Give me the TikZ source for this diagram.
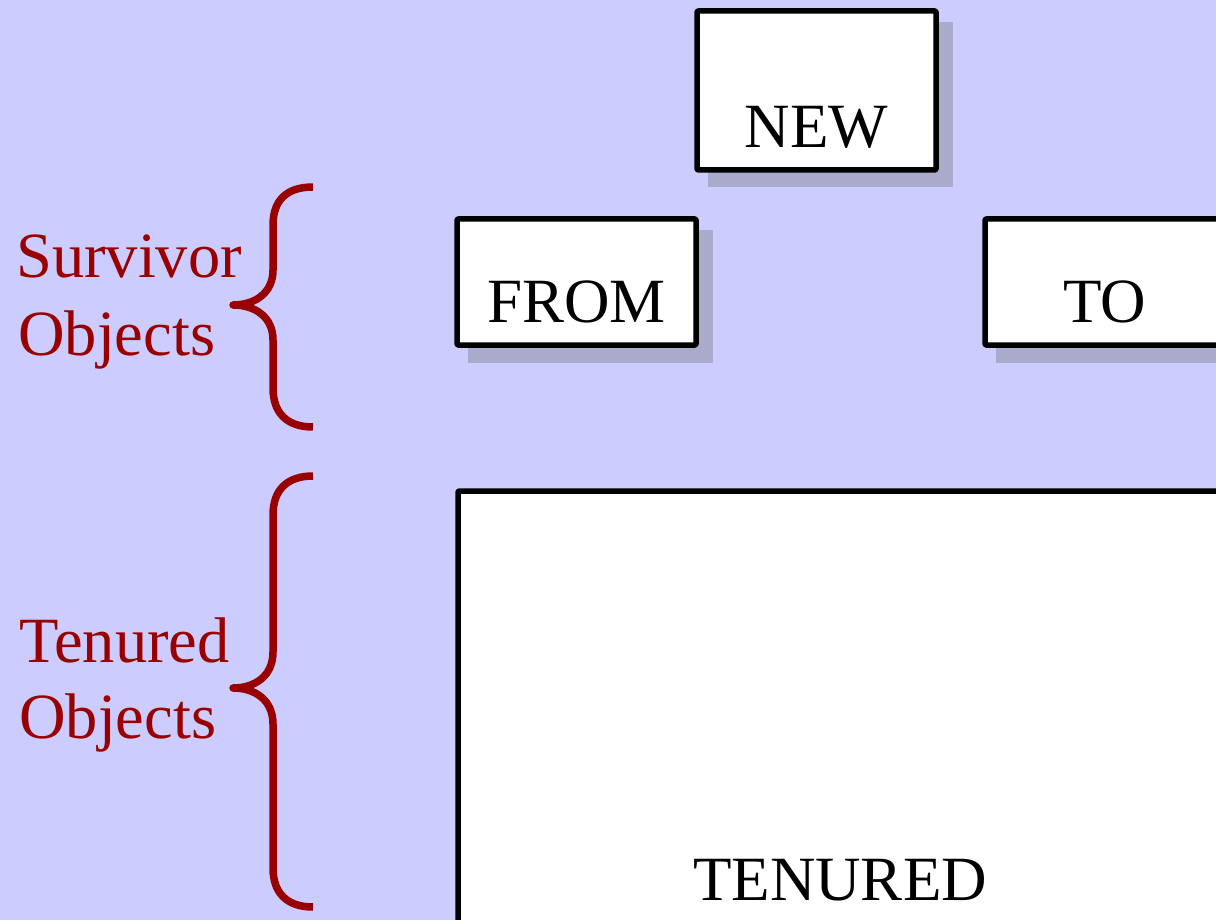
\documentclass[tikz,border=0pt]{standalone}
\usepackage{fontspec}
\setmainfont{Liberation Serif}
\definecolor{bg}{HTML}{CCCCFF}
\definecolor{shad}{HTML}{AAAACC}
\definecolor{dred}{HTML}{990000}
\begin{document}
\begin{tikzpicture}[x=1pt,y=-1pt,
  box/.style={draw=black,line width=5.5pt,fill=white,line join=round,rounded corners=1pt,inner sep=0pt},
  shadowbox/.style={fill=shad},
  lbl/.style={font=\fontsize{63}{75}\selectfont, anchor=base, inner sep=0pt},
  side/.style={lbl, font=\fontsize{64.5}{75}\selectfont, text=dred, anchor=base west},
  brace/.style={draw=dred,line width=7.5pt,line cap=butt,line join=round}]
\useasboundingbox (0,0) rectangle (1216,920);
\clip (0,0) rectangle (1216,920);
\fill[bg] (0,0) rectangle (1216,920);

% shadows
\fill[shadowbox] (708,22) rectangle (953,187);
\fill[shadowbox] (468,230) rectangle (713,363);
\fill[shadowbox] (996,230) rectangle (1240,363);

% boxes
\node[box, minimum width=239pt, minimum height=159pt] (new) at (816.5,90.5) {};
\node[box, minimum width=239pt, minimum height=126pt] (from) at (576.5,282) {};
\node[box, minimum width=239pt, minimum height=126pt] (to) at (1104.5,282) {};
\node[box, minimum width=764pt, minimum height=469pt] (tenured) at (840,725.5) {};

% box texts
\node[lbl] (newt) at (816.5,148) {NEW};
\node[lbl] (fromt) at (576.5,323) {FROM};
\node[lbl] (tot) at (1104.5,323) {TO};
\node[lbl] (tent) at (840,900) {TENURED};

% side labels
\node[side] (surv1) at (16,278) {Survivor};
\node[side] (surv2) at (18,355) {Objects};
\node[side] (ten1) at (19,662) {Tenured};
\node[side] (ten2) at (19,738) {Objects};

% braces
\draw[brace] (313,187) .. controls (287,187) and (273,200) .. (273,225)
  -- (273,270) .. controls (273,293) and (255,305) .. (233,305)
  .. controls (255,305) and (273,317) .. (273,340)
  -- (273,388) .. controls (273,413) and (287,427) .. (313,427);
\draw[brace] (313,476) .. controls (287,476) and (273,490) .. (273,515)
  -- (273,652) .. controls (273,676) and (255,688) .. (233,688)
  .. controls (255,688) and (273,700) .. (273,724)
  -- (273,868) .. controls (273,893) and (287,907) .. (313,907);
\end{tikzpicture}
\end{document}
